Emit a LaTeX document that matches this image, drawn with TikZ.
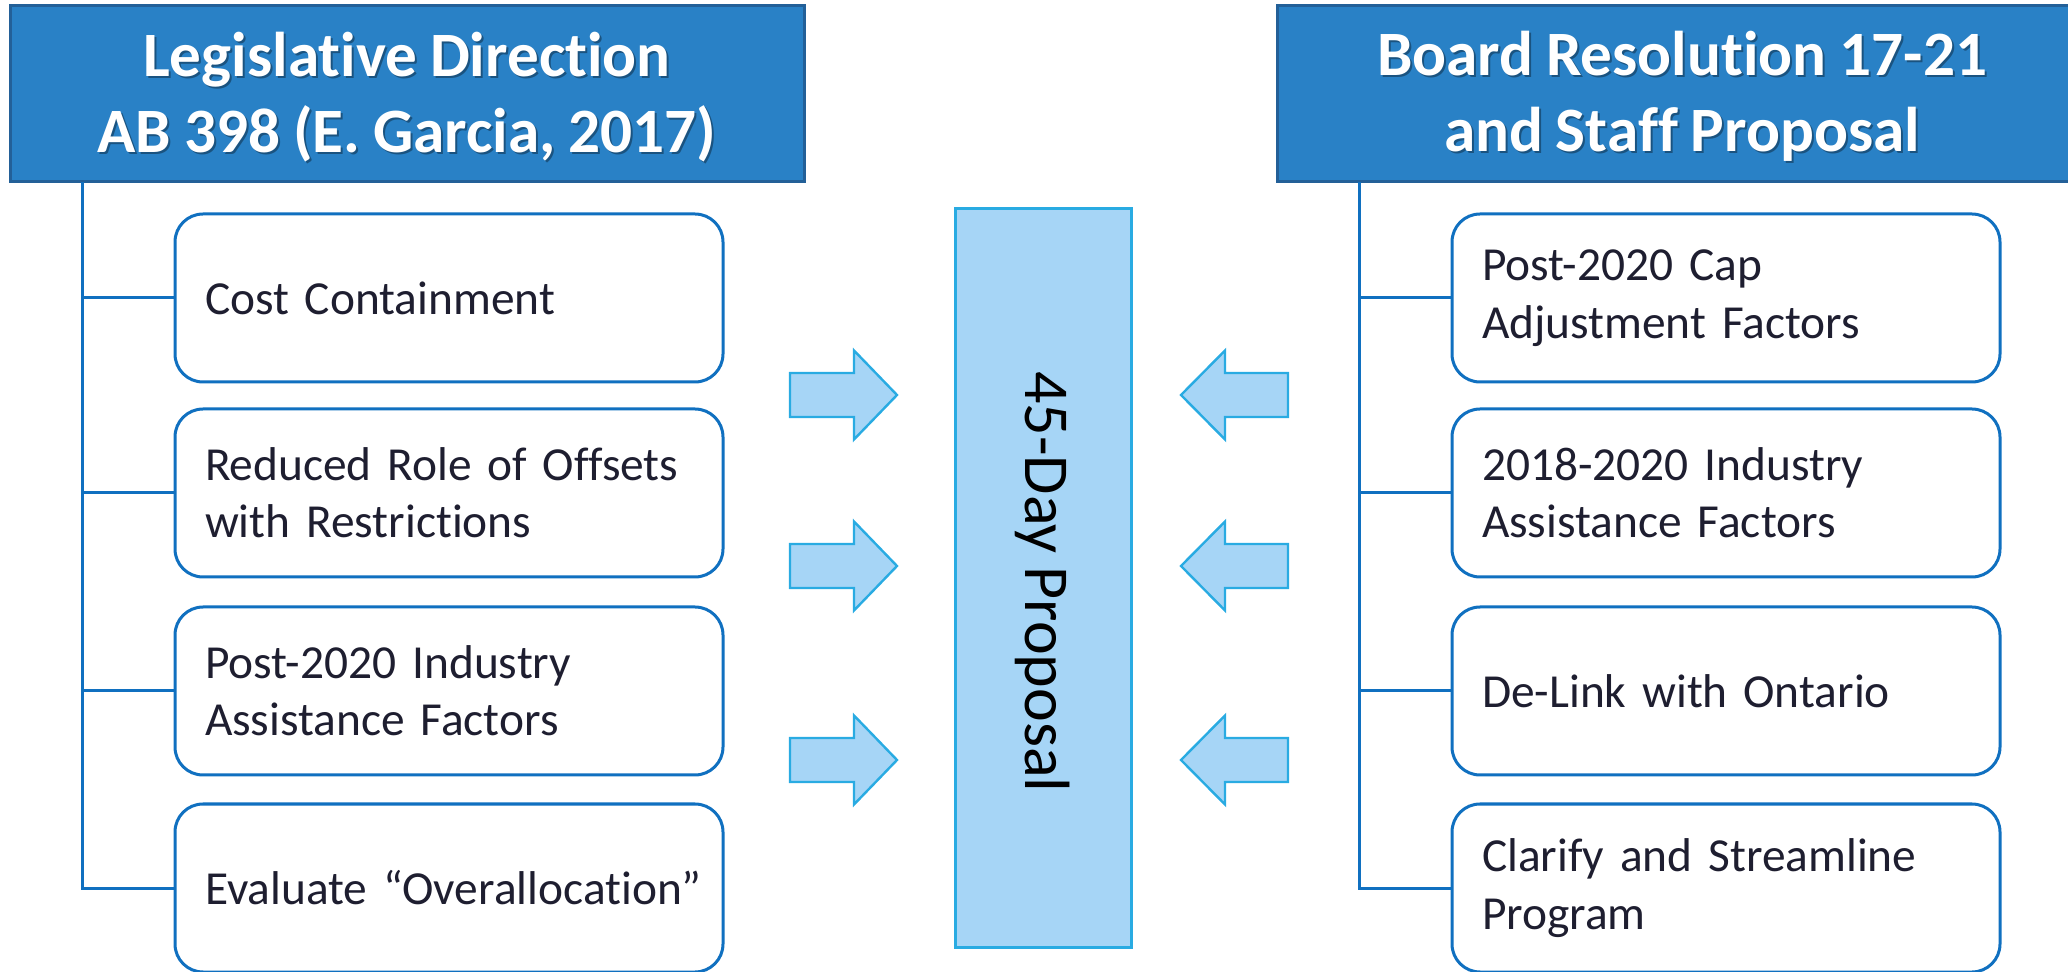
\documentclass[tikz,border=0pt]{standalone}
\usepackage{fontspec}
\setmainfont{Carlito}[Ligatures=NoCommon, WordSpace=0.9]
\definecolor{hdrfill}{RGB}{41,129,198}
\definecolor{hdrline}{RGB}{35,96,152}
\definecolor{boxline}{RGB}{16,112,192}
\definecolor{boxtext}{RGB}{30,30,48}
\definecolor{propfill}{RGB}{166,213,246}
\definecolor{propline}{RGB}{41,171,226}
\begin{document}
\begin{tikzpicture}[x=0.5pt,y=-0.5pt,
  header/.style={rectangle, draw=hdrline, line width=1.5pt, fill=hdrfill,
    minimum height=88pt, inner sep=0pt},
  hdrtext/.style={text=white, align=center, anchor=base, inner sep=0pt,
    font=\fontsize{31.6}{38}\selectfont\bfseries},
  hdrshadow/.style={hdrtext, text=black, text opacity=0.35},
  item/.style={rectangle, rounded corners=14pt, draw=boxline, line width=1.5pt,
    fill=white, minimum width=274pt, minimum height=84pt, inner xsep=15pt,
    text width=244pt, align=left, text=boxtext,
    font=\fontsize{23.7}{28.7}\selectfont},
  tree/.style={draw=boxline, line width=1.5pt},
  proposal/.style={rectangle, draw=propline, line width=1.5pt, fill=propfill,
    minimum width=88pt, minimum height=369pt, inner sep=0pt},
  blockarrow/.style={draw=propline, line width=1.2pt, fill=propfill, line join=miter}
]
\clip (0,0) rectangle (2068,972);

% ---- headers (base anchor sits on the last line)
\node[header, minimum width=397pt] (hl) at (407,94) {};
\node[header, minimum width=405pt] (hr) at (1682,94) {};
\node[hdrshadow] (hlsh) at (409,155) {Legislative Direction\\AB 398 (E. Garcia, 2017)};
\node[hdrtext] (hlt) at (407,153) {Legislative Direction\\AB 398 (E. Garcia, 2017)};
\node[hdrshadow] (hrsh) at (1684,154) {Board Resolution 17-21\\and Staff Proposal};
\node[hdrtext] (hrt) at (1682,152) {Board Resolution 17-21\\and Staff Proposal};

% ---- left column
\node[item] (l1) at (449,298) {Cost Containment};
\node[item] (l2) at (449,493) {Reduced Role of Offsets\\with Restrictions};
\node[item] (l3) at (449,691) {Post-2020 Industry\\Assistance Factors};
\node[item] (l4) at (449,888) {\mbox{Evaluate “Overallocation”}};

% ---- right column
\node[item] (r1) at (1726,298) {Post-2020 Cap\\Adjustment Factors};
\node[item] (r2) at (1726,493) {2018-2020 Industry\\Assistance Factors};
\node[item] (r3) at (1726,691) {De-Link with Ontario};
\node[item] (r4) at (1726,888) {Clarify and Streamline\\Program};

% ---- tree connectors
\coordinate (ltop) at (82,182);
\coordinate (rtop) at (1359,182);
\draw[tree] (ltop) -- (82,888) -- (l4.west);
\foreach \n in {l1,l2,l3} \draw[tree] (82,0 |- \n.west) -- (\n.west);
\draw[tree] (rtop) -- (1359,888) -- (r4.west);
\foreach \n in {r1,r2,r3} \draw[tree] (1359,0 |- \n.west) -- (\n.west);

% ---- central proposal bar
\node[proposal] (prop) at (1043,578) {};
\node[rotate=-90, font=\fontsize{32}{38}\selectfont, text=black] (propt) at (1043,582) {45-Day Proposal};

% ---- block arrows pointing at the bar
\foreach \c in {395,566,760}{
  \draw[blockarrow] (790,\c-22) -- (854,\c-22) -- (854,\c-44.5) -- (897,\c)
    -- (854,\c+44.5) -- (854,\c+22) -- (790,\c+22) -- cycle;
  \draw[blockarrow] (1288,\c-22) -- (1225,\c-22) -- (1225,\c-44.5) -- (1181,\c)
    -- (1225,\c+44.5) -- (1225,\c+22) -- (1288,\c+22) -- cycle;
}
\end{tikzpicture}
\end{document}
